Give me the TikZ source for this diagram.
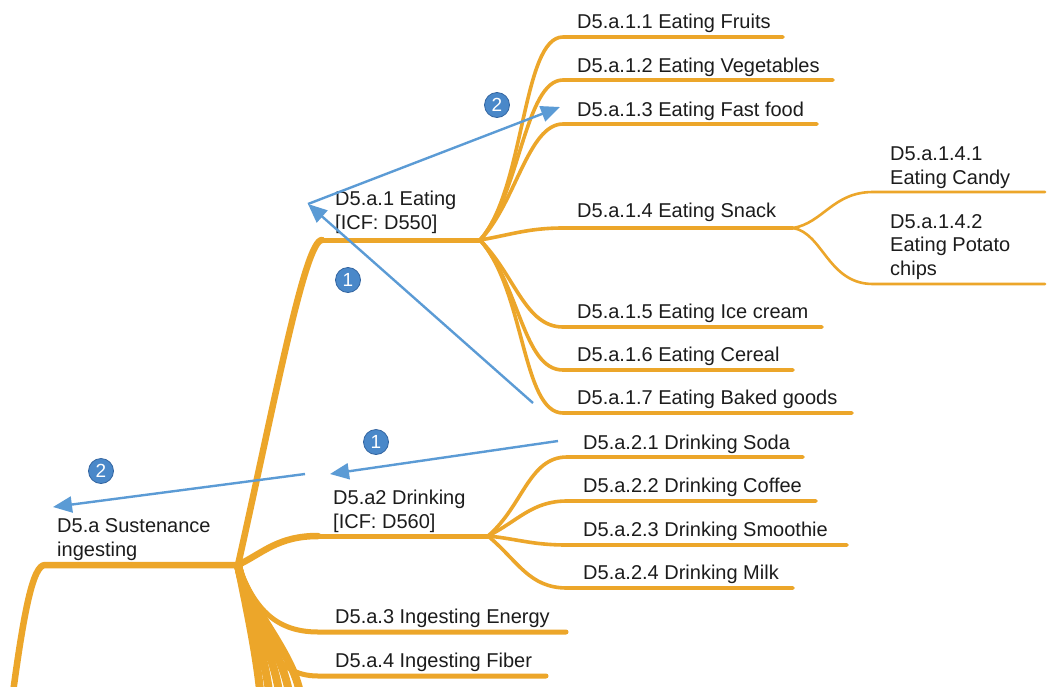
\documentclass[tikz,border=0pt]{standalone}
\usepackage{fontspec}
\setmainfont{Liberation Sans}
\usetikzlibrary{arrows.meta,calc}
\definecolor{brc}{RGB}{236,166,42}
\definecolor{arc}{RGB}{91,155,213}
\definecolor{cfc}{RGB}{74,136,201}
\definecolor{cbc}{RGB}{50,100,160}
\definecolor{txc}{RGB}{28,28,28}
\begin{document}
\begin{tikzpicture}[x=1pt,y=-1pt,
  lbl/.style={anchor=base west, inner sep=0pt, text=txc, font=\fontsize{20}{23.5}\selectfont, align=left},
  brroot/.style={draw=brc, line width=6.5pt, line cap=round, line join=round},
  brbund/.style={draw=brc, line width=8pt, line cap=round},
  brmid/.style={draw=brc, line width=5pt, line cap=round, line join=round},
  brleaf/.style={draw=brc, line width=3.6pt, line cap=round, line join=round},
  brsub/.style={draw=brc, line width=2.6pt, line cap=round, line join=round},
  flowarr/.style={draw=arc, line width=2.4pt, -{Triangle[length=19pt,width=16pt]}},
  numc/.style={circle, fill=cfc, draw=cbc, line width=0.8pt, minimum size=25pt, inner sep=0pt, text=white, font=\fontsize{19}{19}\selectfont}
]
\clip (0,0) rectangle (1058,686);
\fill[white] (0,0) rectangle (1058,686);

% ---------- coordinates ----------
\coordinate (Rb) at (12,700);
\coordinate (R0) at (45,565);
\coordinate (R) at (238,565);
\coordinate (E0) at (322,240);
\coordinate (E) at (480,240);
\coordinate (D0) at (318,536);
\coordinate (D) at (488,536);
\coordinate (G0) at (318,632);
\coordinate (G1) at (566,632);
\coordinate (F0) at (318,676);
\coordinate (F1) at (546,676);
\coordinate (b1) at (261,700);
\coordinate (b2) at (270,700);
\coordinate (b3) at (280,700);
\coordinate (b4) at (290,700);
\coordinate (b5) at (301,700);
% eating children
\coordinate (e1s) at (563,37);  \coordinate (e1e) at (783,37);
\coordinate (e2s) at (563,80);  \coordinate (e2e) at (833,80);
\coordinate (e3s) at (563,124); \coordinate (e3e) at (817,124);
\coordinate (e4s) at (563,228); \coordinate (S) at (793,228);
\coordinate (e5s) at (563,327); \coordinate (e5e) at (822,327);
\coordinate (e6s) at (563,370); \coordinate (e6e) at (793,370);
\coordinate (e7s) at (563,413); \coordinate (e7e) at (852,413);
% snack children
\coordinate (s1s) at (873,192); \coordinate (s1e) at (1045,192);
\coordinate (s2s) at (873,284); \coordinate (s2e) at (1045,284);
% drinking children
\coordinate (d1s) at (567,457); \coordinate (d1e) at (803,457);
\coordinate (d2s) at (567,501); \coordinate (d2e) at (816,501);
\coordinate (d3s) at (567,545); \coordinate (d3e) at (847,545);
\coordinate (d4s) at (567,588); \coordinate (d4e) at (793,588);

% ---------- branches ----------
\draw[brroot] (Rb) .. controls +(12,-90) and +(-12,0) .. (R0) -- (R);
\foreach \b in {b1,b2,b3,b4,b5}{
  \draw[brbund] (R) .. controls +(8,40) and +(-4,-45) .. (\b);
}
\draw[brroot] (R) .. controls +(37,-165) and +(-17,0) .. (E0);
\draw[brmid] (E0) -- (E);
\draw[brroot] (R) .. controls +(25,-12) and +(-40,0) .. (D0);
\draw[brmid] (D0) -- (D);
\draw[brmid] (R) .. controls +(15,40) and +(-45,0) .. (G0) -- (G1);
\draw[brmid] (R) .. controls +(18,70) and +(-45,0) .. (F0) -- (F1);

\draw[brleaf] (E) .. controls +(45,-50) and +(-41,0) .. (e1s) -- (e1e);
\draw[brleaf] (E) .. controls +(40,-45) and +(-38,0) .. (e2s) -- (e2e);
\draw[brleaf] (E) .. controls +(35,-35) and +(-35,0) .. (e3s) -- (e3e);
\draw[brleaf] (E) .. controls +(30,-5) and +(-35,0) .. (e4s) -- (S);
\draw[brleaf] (E) .. controls +(35,35) and +(-38,0) .. (e5s) -- (e5e);
\draw[brleaf] (E) .. controls +(40,45) and +(-40,0) .. (e6s) -- (e6e);
\draw[brleaf] (E) .. controls +(45,50) and +(-41,0) .. (e7s) -- (e7e);

\draw[brsub] (S) .. controls +(30,-5) and +(-40,0) .. (s1s) -- (s1e);
\draw[brsub] (S) .. controls +(30,5) and +(-45,0) .. (s2s) -- (s2e);

\draw[brleaf] (D) .. controls +(35,-30) and +(-38,0) .. (d1s) -- (d1e);
\draw[brleaf] (D) .. controls +(30,-15) and +(-35,0) .. (d2s) -- (d2e);
\draw[brleaf] (D) .. controls +(30,3) and +(-35,0) .. (d3s) -- (d3e);
\draw[brleaf] (D) .. controls +(30,25) and +(-38,0) .. (d4s) -- (d4e);

% ---------- labels (base = baseline of last line) ----------
\node[lbl] (root) at (57,556) {D5.a Sustenance\\ingesting};
\node[lbl] (eat) at (335,229) {D5.a.1 Eating\\{[ICF: D550]}};
\node[lbl] (drink) at (333,528) {D5.a2 Drinking\\{[ICF: D560]}};
\node[lbl] (energy) at (335,623) {D5.a.3 Ingesting Energy};
\node[lbl] (fiber) at (335,667) {D5.a.4 Ingesting Fiber};

\node[lbl] (e1) at (577,28) {D5.a.1.1 Eating Fruits};
\node[lbl] (e2) at (577,72) {D5.a.1.2 Eating Vegetables};
\node[lbl] (e3) at (577,116) {D5.a.1.3 Eating Fast food};
\node[lbl] (e4) at (577,217) {D5.a.1.4 Eating Snack};
\node[lbl] (e5) at (577,318) {D5.a.1.5 Eating Ice cream};
\node[lbl] (e6) at (577,361) {D5.a.1.6 Eating Cereal};
\node[lbl] (e7) at (577,404) {D5.a.1.7 Eating Baked goods};

\node[lbl] (s1) at (890,184) {D5.a.1.4.1\\Eating Candy};
\node[lbl] (s2) at (890,275) {D5.a.1.4.2\\Eating Potato\\chips};

\node[lbl] (d1) at (583,449) {D5.a.2.1 Drinking Soda};
\node[lbl] (d2) at (583,492) {D5.a.2.2 Drinking Coffee};
\node[lbl] (d3) at (583,536) {D5.a.2.3 Drinking Smoothie};
\node[lbl] (d4) at (583,579) {D5.a.2.4 Drinking Milk};

% ---------- blue flow arrows ----------
\coordinate (a1s) at (533,403);
\coordinate (a1t) at (308,204);
\coordinate (a2t) at (560,107);
\coordinate (a3s) at (558,441);
\coordinate (a3t) at (330,474);
\coordinate (a4s) at (305,474);
\coordinate (a4t) at (53,507);
\draw[flowarr] (a1s) -- (a1t);
\draw[flowarr] (a1t) -- (a2t);
\draw[flowarr] (a3s) -- (a3t);
\draw[flowarr] (a4s) -- (a4t);

\node[numc] (n1) at (348,280) {1};
\node[numc] (n2) at (497,105) {2};
\node[numc] (n3) at (376,442) {1};
\node[numc] (n4) at (101,471) {2};
\end{tikzpicture}
\end{document}
